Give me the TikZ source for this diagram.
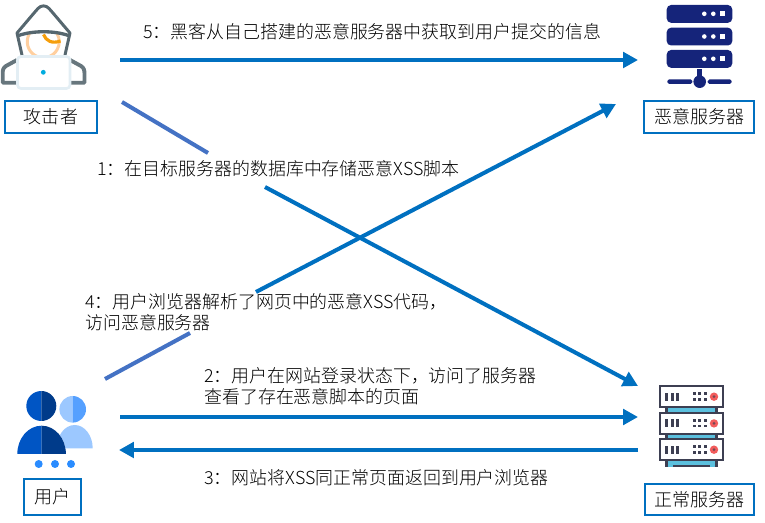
\documentclass[tikz,border=0pt]{standalone}
\usepackage{fontspec}
\setmainfont{Carlito}
\newfontfamily\cjk{Noto Sans CJK SC Light}[BoldFont={Noto Sans CJK SC}]
\usetikzlibrary{arrows.meta}
\definecolor{linkblue}{HTML}{0070C0}
\definecolor{stubblue}{HTML}{4472C4}
\definecolor{hoodgray}{HTML}{56676F}
\definecolor{faceorange}{HTML}{FFCF9F}
\definecolor{hairorange}{HTML}{F59E0B}
\definecolor{lapblue}{HTML}{E3EEF4}
\definecolor{evilnavy}{HTML}{15247A}
\definecolor{userdark}{HTML}{003B8A}
\definecolor{usermid}{HTML}{0055C4}
\definecolor{userlight}{HTML}{9CC8FF}
\definecolor{usersoft}{HTML}{55A0FF}
\definecolor{userdot}{HTML}{2A8CFF}
\definecolor{rackdark}{HTML}{3D3F52}
\definecolor{rackcyan}{HTML}{5BC0DE}
\definecolor{rackred}{HTML}{F25C5C}
\begin{document}
\begin{tikzpicture}[
  x=0.02cm,y=-0.02cm,
  link/.style={linkblue, line width=2.3pt, -{Triangle[length=8.5pt,width=8.8pt]}},
  stub/.style={stubblue, line width=2.3pt},
  namebox/.style={draw=linkblue,fill=white,line width=1.15pt,inner sep=0pt,font=\cjk\fontsize{10.25}{12}\selectfont},
  msg/.style={anchor=west,align=left,inner sep=0pt,font=\cjk\fontsize{10.2}{12}\selectfont}
]
\useasboundingbox (0,0) rectangle (765,523);

% name boxes
\node[namebox,minimum width=1.85cm,minimum height=0.64cm] (attacker) at (51,117) {攻击者};
\node[namebox,minimum width=2.2cm,minimum height=0.64cm] (evil) at (699.3,117) {恶意服务器};
\node[namebox,minimum width=1.15cm,minimum height=0.72cm] (user) at (52.7,497) {用户};
\node[namebox,minimum width=2.18cm,minimum height=0.62cm] (normal) at (699.7,499.7) {正常服务器};

% attacker icon
\draw[faceorange,line width=1.7pt] (29.4,33.7) arc[start angle=210,end angle=-30,radius=16];
\draw[hairorange,line width=1.8pt] (43.5,34.5) .. controls (46,41) and (52,44) .. (60.5,41);
\draw[hoodgray,line width=1.7pt,line join=round,line cap=round] (22,55) -- (17,33) .. controls (24,25) and (33,14) .. (38,8.5) .. controls (41,5) and (46,5) .. (49,8.5) .. controls (54,14) and (63,25) .. (70,33) -- (65,55);
\draw[hoodgray,line width=1.9pt] (18.5,35.5) .. controls (33,30.5) and (54,30.5) .. (68.5,35.5);
\draw[hoodgray!90,line width=2.2pt,line join=round] (17,60) -- (6,66) .. controls (3,68) and (2.7,70) .. (2.7,74) -- (2.7,82.7) -- (17,82.7);
\draw[hoodgray!90,line width=2.2pt,line join=round] (70,60) -- (81,66) .. controls (84,68) and (84.5,70) .. (84.5,74) -- (84.5,82.7) -- (70,82.7);
\draw[lapblue,fill=white,line width=1.5pt,rounded corners=2pt] (17.5,56.5) rectangle (70,88.5);
\fill[cyan!90!green] (43.3,72.3) circle (2.4);

% evil server icon
\foreach \y in {5,27.7,50}{
  \fill[evilnavy,rounded corners=2.5pt] (666.7,\y) rectangle (732.3,\y+17.8);
  \fill[white] (704.3,\y+8.8) circle (2.3);
  \fill[white] (713.3,\y+8.8) circle (2.3);
  \fill[white] (720,\y+6.5) rectangle (725,\y+11.2);
}
\fill[evilnavy] (697,69) rectangle (702,77);
\fill[evilnavy] (699.7,81.7) circle (6.3);
\fill[evilnavy,rounded corners=1pt] (667.3,79.3) rectangle (692.3,84);
\fill[evilnavy,rounded corners=1pt] (707.7,79.3) rectangle (731.7,84);

% user icon
\fill[userlight] (56.7,448.3) arc[start angle=180,end angle=0,x radius=18,y radius=-23.3] -- cycle;
\fill[userlight] (72.7,396) arc[start angle=-90,end angle=-270,radius=13.3];
\fill[usersoft] (72.7,396) arc[start angle=-90,end angle=90,radius=13.3];
\fill[white] (17.3,454) arc[start angle=180,end angle=0,x radius=24.3,y radius=-28.3] -- cycle;
\fill[usermid] (41.3,391) arc[start angle=-90,end angle=-270,radius=15];
\fill[userdark] (41.3,391) arc[start angle=-90,end angle=90,radius=15];
\fill[usermid] (17.3,454) arc[start angle=180,end angle=90,x radius=24.3,y radius=-28.3] -- (41.6,454) -- cycle;
\fill[userdark] (41.6,425.7) arc[start angle=90,end angle=0,x radius=24.3,y radius=-28.3] -- (41.6,454) -- cycle;
\foreach \x in {38.7,55,71}{
  \fill[userdot] (\x,464) circle (4);
}

% normal server icon
\foreach \y in {407,434,460}{
  \fill[rackcyan] (666.5,\y) rectangle (716.5,\y+7);
  \draw[rackdark,line width=1.3pt] (666.5,\y) -- (666.5,\y+7) (716.5,\y) -- (716.5,\y+7);
}
\fill[rackdark] (673,464.7) rectangle (710,467.5);
\foreach \y in {386,412.7,439}{
  \draw[rackdark,fill=white,line width=1.3pt] (660,\y) rectangle (722.7,\y+21);
  \foreach \x in {666.7,672,677.3}{
    \fill[rackdark] (\x-1.5,\y+6.7) rectangle (\x+1.5,\y+14.7);
  }
  \foreach \x in {694,699.5,705}{
    \fill[rackdark] (\x-1.5,\y+6.5) rectangle (\x+1.5,\y+9.3);
    \fill[rackdark] (\x-1.5,\y+12) rectangle (\x+1.5,\y+14.8);
  }
  \fill[rackred] (714,\y+10.7) circle (4.2);
  \fill[rackdark!70!rackred] (714,\y+10.7) circle (1.5);
}

% stubs and links
\coordinate (a5) at (120,60);
\coordinate (b5) at (638,60);
\coordinate (a1) at (122,102);
\coordinate (m1) at (208,153);
\coordinate (n1) at (265,187);
\coordinate (b1) at (638,386);
\coordinate (a4) at (105,379);
\coordinate (m4) at (190,333);
\coordinate (n4) at (256,292);
\coordinate (b4) at (616,104);
\coordinate (a2) at (120,417);
\coordinate (b2) at (638,417);
\coordinate (a3) at (638,450);
\coordinate (b3) at (119,450);

\draw[link] (a5) -- (b5);
\draw[stub] (a1) -- (m1);
\draw[link] (n1) -- (b1);
\draw[stub] (a4) -- (m4);
\draw[link] (n4) -- (b4);
\draw[link] (a2) -- (b2);
\draw[link] (a3) -- (b3);

% messages
\node[msg] (msg5) at (143,32) {5：黑客从自己搭建的恶意服务器中获取到用户提交的信息};
\node[msg] (msg1) at (97,169) {1：在目标服务器的数据库中存储恶意XSS脚本};
\node[msg] (msg4) at (85,312) {4：用户浏览器解析了网页中的恶意XSS代码，\\访问恶意服务器};
\node[msg] (msg2) at (204,386.5) {2：用户在网站登录状态下，访问了服务器\\查看了存在恶意脚本的页面};
\node[msg] (msg3) at (204,478) {3：网站将XSS同正常页面返回到用户浏览器};
\end{tikzpicture}
\end{document}
